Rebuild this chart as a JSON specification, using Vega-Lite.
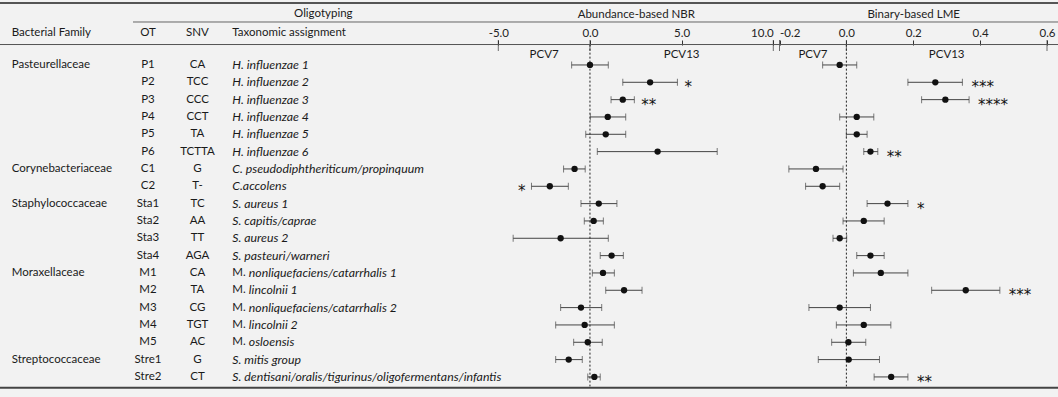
{
  "$schema": "https://vega.github.io/schema/vega-lite/v6.json",
  "width": 1058,
  "height": 397,
  "autosize": "none",
  "padding": 0,
  "background": "#f2f2f2",
  "config": {
    "view": {"stroke": null},
    "font": "Lato",
    "text": {"fontSize": 11.5, "color": "#1a1a1a"},
    "axis": {
      "domain": false,
      "grid": false,
      "ticks": true,
      "tickSize": 5,
      "tickColor": "#333",
      "labelFontSize": 11.5,
      "labelColor": "#222",
      "labelPadding": 2,
      "labelOverlap": false,
      "labelFlush": false,
      "titleFontSize": 11.5,
      "titleFontWeight": "normal",
      "titleColor": "#222"
    }
  },
  "datasets": {
    "rows": [
      {"family": "Pasteurellaceae", "ot": "P1", "snv": "CA", "taxPrefix": "", "taxName": "H. influenzae 1", "nbr": 0.0, "nbr_lo": -1.0, "nbr_hi": 1.0, "nbr_sig": "", "lme": -0.02, "lme_lo": -0.071, "lme_hi": 0.031, "lme_sig": ""},
      {"family": "Pasteurellaceae", "ot": "P2", "snv": "TCC", "taxPrefix": "", "taxName": "H. influenzae 2", "nbr": 3.28, "nbr_lo": 1.79, "nbr_hi": 4.77, "nbr_sig": "*", "lme": 0.266, "lme_lo": 0.184, "lme_hi": 0.347, "lme_sig": "***"},
      {"family": "Pasteurellaceae", "ot": "P3", "snv": "CCC", "taxPrefix": "", "taxName": "H. influenzae 3", "nbr": 1.79, "nbr_lo": 1.15, "nbr_hi": 2.42, "nbr_sig": "**", "lme": 0.296, "lme_lo": 0.225, "lme_hi": 0.367, "lme_sig": "****"},
      {"family": "Pasteurellaceae", "ot": "P4", "snv": "CCT", "taxPrefix": "", "taxName": "H. influenzae 4", "nbr": 0.97, "nbr_lo": 0.02, "nbr_hi": 1.95, "nbr_sig": "", "lme": 0.031, "lme_lo": -0.02, "lme_hi": 0.082, "lme_sig": ""},
      {"family": "Pasteurellaceae", "ot": "P5", "snv": "TA", "taxPrefix": "", "taxName": "H. influenzae 5", "nbr": 0.86, "nbr_lo": -0.23, "nbr_hi": 1.95, "nbr_sig": "", "lme": 0.031, "lme_lo": 0.0, "lme_hi": 0.062, "lme_sig": ""},
      {"family": "Pasteurellaceae", "ot": "P6", "snv": "TCTTA", "taxPrefix": "", "taxName": "H. influenzae 6", "nbr": 3.69, "nbr_lo": 0.4, "nbr_hi": 6.94, "nbr_sig": "", "lme": 0.072, "lme_lo": 0.052, "lme_hi": 0.094, "lme_sig": "**"},
      {"family": "Corynebacteriaceae", "ot": "C1", "snv": "G", "taxPrefix": "", "taxName": "C. pseudodiphtheriticum/propinquum", "nbr": -0.84, "nbr_lo": -1.44, "nbr_hi": -0.26, "nbr_sig": "", "lme": -0.091, "lme_lo": -0.172, "lme_hi": -0.01, "lme_sig": ""},
      {"family": "Corynebacteriaceae", "ot": "C2", "snv": "T-", "taxPrefix": "", "taxName": "C.accolens", "nbr": -2.19, "nbr_lo": -3.19, "nbr_hi": -1.18, "nbr_sig": "*", "lme": -0.071, "lme_lo": -0.122, "lme_hi": -0.02, "lme_sig": ""},
      {"family": "Staphylococcaceae", "ot": "Sta1", "snv": "TC", "taxPrefix": "", "taxName": "S. aureus 1", "nbr": 0.48, "nbr_lo": -0.49, "nbr_hi": 1.47, "nbr_sig": "", "lme": 0.123, "lme_lo": 0.062, "lme_hi": 0.184, "lme_sig": "*"},
      {"family": "Staphylococcaceae", "ot": "Sta2", "snv": "AA", "taxPrefix": "", "taxName": "S. capitis/caprae", "nbr": 0.2, "nbr_lo": -0.31, "nbr_hi": 0.73, "nbr_sig": "", "lme": 0.052, "lme_lo": -0.01, "lme_hi": 0.113, "lme_sig": ""},
      {"family": "Staphylococcaceae", "ot": "Sta3", "snv": "TT", "taxPrefix": "", "taxName": "S. aureus 2", "nbr": -1.6, "nbr_lo": -4.19, "nbr_hi": 1.0, "nbr_sig": "", "lme": -0.02, "lme_lo": -0.04, "lme_hi": 0.001, "lme_sig": ""},
      {"family": "Staphylococcaceae", "ot": "Sta4", "snv": "AGA", "taxPrefix": "", "taxName": "S. pasteuri/warneri", "nbr": 1.18, "nbr_lo": 0.56, "nbr_hi": 1.82, "nbr_sig": "", "lme": 0.072, "lme_lo": 0.031, "lme_hi": 0.113, "lme_sig": ""},
      {"family": "Moraxellaceae", "ot": "M1", "snv": "CA", "taxPrefix": "M.", "taxName": "nonliquefaciens/catarrhalis 1", "nbr": 0.71, "nbr_lo": 0.13, "nbr_hi": 1.33, "nbr_sig": "", "lme": 0.103, "lme_lo": 0.021, "lme_hi": 0.184, "lme_sig": ""},
      {"family": "Moraxellaceae", "ot": "M2", "snv": "TA", "taxPrefix": "M.", "taxName": "lincolnii 1", "nbr": 1.86, "nbr_lo": 0.86, "nbr_hi": 2.84, "nbr_sig": "", "lme": 0.357, "lme_lo": 0.255, "lme_hi": 0.459, "lme_sig": "***"},
      {"family": "Moraxellaceae", "ot": "M3", "snv": "CG", "taxPrefix": "M.", "taxName": "nonliquefaciens/catarrhalis 2", "nbr": -0.49, "nbr_lo": -1.6, "nbr_hi": 0.64, "nbr_sig": "", "lme": -0.02, "lme_lo": -0.112, "lme_hi": 0.072, "lme_sig": ""},
      {"family": "Moraxellaceae", "ot": "M4", "snv": "TGT", "taxPrefix": "M.", "taxName": "lincolnii 2", "nbr": -0.29, "nbr_lo": -1.87, "nbr_hi": 1.33, "nbr_sig": "", "lme": 0.052, "lme_lo": -0.03, "lme_hi": 0.133, "lme_sig": ""},
      {"family": "Moraxellaceae", "ot": "M5", "snv": "AC", "taxPrefix": "M.", "taxName": "osloensis", "nbr": -0.12, "nbr_lo": -0.89, "nbr_hi": 0.67, "nbr_sig": "", "lme": 0.006, "lme_lo": -0.044, "lme_hi": 0.058, "lme_sig": ""},
      {"family": "Streptococcaceae", "ot": "Stre1", "snv": "G", "taxPrefix": "", "taxName": "S. mitis group", "nbr": -1.16, "nbr_lo": -1.87, "nbr_hi": -0.42, "nbr_sig": "", "lme": 0.007, "lme_lo": -0.084, "lme_hi": 0.099, "lme_sig": ""},
      {"family": "Streptococcaceae", "ot": "Stre2", "snv": "CT", "taxPrefix": "", "taxName": "S. dentisani/oralis/tigurinus/oligofermentans/infantis", "nbr": 0.24, "nbr_lo": -0.12, "nbr_hi": 0.56, "nbr_sig": "", "lme": 0.134, "lme_lo": 0.083, "lme_hi": 0.184, "lme_sig": "**"}
    ]
  },
  "data": {"name": "rows"},
  "encoding": {
    "y": {
      "field": "ot",
      "type": "nominal",
      "scale": {
        "type": "point",
        "domain": ["h0", "h1", "h2", "P1", "P2", "P3", "P4", "P5", "P6", "C1", "C2", "Sta1", "Sta2", "Sta3", "Sta4", "M1", "M2", "M3", "M4", "M5", "Stre1", "Stre2"],
        "range": [4.3, 385.6],
        "padding": 0.5
      },
      "axis": null
    }
  },
  "resolve": {"scale": {"x": "independent"}, "axis": {"x": "independent"}},
  "layer": [
    {
      "layer": [
        {
          "transform": [
            {"window": [{"op": "row_number", "as": "rk"}], "groupby": ["family"]},
            {"filter": "datum.rk == 1"}
          ],
          "mark": {"type": "text", "align": "left"},
          "encoding": {
            "x": {"datum": "Bacterial Family", "type": "nominal", "scale": {"type": "point", "domain": ["Bacterial Family"], "range": [11.7, 11.7], "padding": 0}, "axis": null},
            "text": {"field": "family"}
          }
        },
        {
          "data": {"values": [{}]},
          "mark": {"type": "text", "align": "left", "dy": 3},
          "encoding": {
            "x": {"datum": "Bacterial Family", "type": "nominal", "axis": null},
            "y": {"datum": "h1", "type": "nominal", "axis": null},
            "text": {"value": "Bacterial Family"}
          }
        }
      ]
    },
    {
      "layer": [
        {
          "mark": {"type": "text", "align": "center"},
          "encoding": {
            "x": {"datum": "OT", "type": "nominal", "scale": {"type": "point", "domain": ["OT", "SNV"], "range": [148, 197.5], "padding": 0}, "axis": null},
            "text": {"field": "ot"}
          }
        },
        {
          "mark": {"type": "text", "align": "center"},
          "encoding": {
            "x": {"datum": "SNV", "type": "nominal", "axis": null},
            "text": {"field": "snv"}
          }
        },
        {
          "data": {"values": [{"h": "OT"}, {"h": "SNV"}]},
          "mark": {"type": "text", "align": "center", "dy": 3},
          "encoding": {
            "x": {"field": "h", "type": "nominal", "axis": null},
            "y": {"datum": "h1", "type": "nominal", "axis": null},
            "text": {"field": "h"}
          }
        }
      ]
    },
    {
      "layer": [
        {
          "transform": [{"filter": "datum.taxPrefix == ''"}],
          "mark": {"type": "text", "align": "left", "fontStyle": "italic", "fontSize": 12.3},
          "encoding": {
            "x": {"datum": "Taxonomic assignment", "type": "nominal", "scale": {"type": "point", "domain": ["Taxonomic assignment"], "range": [232.3, 232.3], "padding": 0}, "axis": null},
            "text": {"field": "taxName"}
          }
        },
        {
          "transform": [{"filter": "datum.taxPrefix != ''"}],
          "mark": {"type": "text", "align": "left"},
          "encoding": {
            "x": {"datum": "Taxonomic assignment", "type": "nominal", "axis": null},
            "text": {"field": "taxPrefix"}
          }
        },
        {
          "transform": [{"filter": "datum.taxPrefix != ''"}],
          "mark": {"type": "text", "align": "left", "fontStyle": "italic", "fontSize": 12.3, "dx": 16.5},
          "encoding": {
            "x": {"datum": "Taxonomic assignment", "type": "nominal", "axis": null},
            "text": {"field": "taxName"}
          }
        },
        {
          "data": {"values": [{}]},
          "mark": {"type": "text", "align": "left", "dy": 3},
          "encoding": {
            "x": {"datum": "Taxonomic assignment", "type": "nominal", "axis": null},
            "y": {"datum": "h1", "type": "nominal", "axis": null},
            "text": {"value": "Taxonomic assignment"}
          }
        },
        {
          "data": {"values": [{}]},
          "mark": {"type": "text", "align": "center", "dx": 91, "dy": 1},
          "encoding": {
            "x": {"datum": "Taxonomic assignment", "type": "nominal", "axis": null},
            "y": {"datum": "h0", "type": "nominal", "axis": null},
            "text": {"value": "Oligotyping"}
          }
        },
        {
          "data": {"values": [{}]},
          "mark": {"type": "rule", "color": "#666", "strokeWidth": 1, "xOffset": -99.3, "yOffset": -8.3},
          "encoding": {
            "x": {"datum": "Taxonomic assignment", "type": "nominal", "axis": null},
            "x2": {"value": "width"},
            "y": {"datum": "h1", "type": "nominal", "axis": null}
          }
        }
      ]
    },
    {
      "mark": {"type": "rule", "color": "#444", "strokeWidth": 1},
      "encoding": {
        "x": {
          "field": "nbr_lo",
          "type": "quantitative",
          "scale": {"domain": [-5, 10], "range": [498.3, 773.3], "zero": false, "nice": false},
          "axis": {
            "orient": "top",
            "offset": -45,
            "values": [-5, 0, 5, 10],
            "format": ".1f",
            "labelExpr": "replace(datum.label, '\u2212', '-')",
            "labelAlign": {"condition": {"test": "datum.value == 10", "value": "right"}, "value": "center"},
            "title": "Abundance-based NBR",
            "titleY": -28,
            "titleBaseline": "alphabetic"
          }
        },
        "x2": {"field": "nbr_hi"}
      }
    },
    {
      "layer": [
        {
          "data": {"values": [{}]},
          "mark": {"type": "rule", "strokeDash": [2, 2], "color": "#222", "strokeWidth": 1, "yOffset": -3, "y2Offset": 9.5},
          "encoding": {
            "x": {"datum": 0, "type": "quantitative", "scale": {"domain": [-5, 10], "range": [498.3, 773.3], "zero": false, "nice": false}, "axis": null},
            "y": {"datum": "h2", "type": "nominal", "axis": null},
            "y2": {"datum": "Stre2"}
          }
        },
        {
          "data": {"values": [{"v": -5}, {"v": 0}, {"v": 10}]},
          "mark": {"type": "tick", "orient": "vertical", "size": 11, "thickness": 1, "color": "#333", "yOffset": -2.1},
          "encoding": {
            "x": {"field": "v", "type": "quantitative", "axis": null},
            "y": {"datum": "h2", "type": "nominal", "axis": null}
          }
        },
        {
          "mark": {"type": "tick", "orient": "vertical", "size": 7, "thickness": 1, "color": "#444"},
          "encoding": {"x": {"field": "nbr_lo", "type": "quantitative", "axis": null}}
        },
        {
          "mark": {"type": "tick", "orient": "vertical", "size": 7, "thickness": 1, "color": "#444"},
          "encoding": {"x": {"field": "nbr_hi", "type": "quantitative", "axis": null}}
        },
        {
          "mark": {"type": "circle", "size": 40, "color": "#111", "opacity": 1},
          "encoding": {"x": {"field": "nbr", "type": "quantitative", "axis": null}}
        },
        {
          "transform": [{"filter": "datum.nbr_sig != '' && datum.nbr >= 0"}],
          "mark": {"type": "text", "align": "left", "baseline": "alphabetic", "dx": 7, "dy": 10, "font": "DejaVu Sans", "fontSize": 15, "color": "#111"},
          "encoding": {
            "x": {"field": "nbr_hi", "type": "quantitative", "axis": null},
            "text": {"field": "nbr_sig"}
          }
        },
        {
          "transform": [{"filter": "datum.nbr_sig != '' && datum.nbr < 0"}],
          "mark": {"type": "text", "align": "right", "baseline": "alphabetic", "dx": -6, "dy": 10, "font": "DejaVu Sans", "fontSize": 15, "color": "#111"},
          "encoding": {
            "x": {"field": "nbr_lo", "type": "quantitative", "axis": null},
            "text": {"field": "nbr_sig"}
          }
        },
        {
          "data": {"values": [{}]},
          "mark": {"type": "text", "align": "center", "dy": 7},
          "encoding": {
            "x": {"datum": -2.5, "type": "quantitative", "axis": null},
            "y": {"datum": "h2", "type": "nominal", "axis": null},
            "text": {"value": "PCV7"}
          }
        },
        {
          "data": {"values": [{}]},
          "mark": {"type": "text", "align": "center", "dy": 7},
          "encoding": {
            "x": {"datum": 5, "type": "quantitative", "axis": null},
            "y": {"datum": "h2", "type": "nominal", "axis": null},
            "text": {"value": "PCV13"}
          }
        }
      ]
    },
    {
      "mark": {"type": "rule", "color": "#444", "strokeWidth": 1},
      "encoding": {
        "x": {
          "field": "lme_lo",
          "type": "quantitative",
          "scale": {"domain": [-0.2, 0.6], "range": [779.5, 1047], "zero": false, "nice": false},
          "axis": {
            "orient": "top",
            "offset": -45,
            "values": [-0.2, 0, 0.2, 0.4, 0.6],
            "format": ".1f",
            "labelExpr": "replace(datum.label, '\u2212', '-')",
            "labelAlign": {"condition": {"test": "datum.value < -0.1", "value": "left"}, "value": "center"},
            "title": "Binary-based LME",
            "titleY": -28,
            "titleBaseline": "alphabetic"
          }
        },
        "x2": {"field": "lme_hi"}
      }
    },
    {
      "layer": [
        {
          "data": {"values": [{}]},
          "mark": {"type": "rule", "strokeDash": [2, 2], "color": "#222", "strokeWidth": 1, "yOffset": -3, "y2Offset": 9.5},
          "encoding": {
            "x": {"datum": 0, "type": "quantitative", "scale": {"domain": [-0.2, 0.6], "range": [779.5, 1047], "zero": false, "nice": false}, "axis": null},
            "y": {"datum": "h2", "type": "nominal", "axis": null},
            "y2": {"datum": "Stre2"}
          }
        },
        {
          "data": {"values": [{"v": -0.2}, {"v": 0}, {"v": 0.6}]},
          "mark": {"type": "tick", "orient": "vertical", "size": 11, "thickness": 1, "color": "#333", "yOffset": -2.1},
          "encoding": {
            "x": {"field": "v", "type": "quantitative", "axis": null},
            "y": {"datum": "h2", "type": "nominal", "axis": null}
          }
        },
        {
          "mark": {"type": "tick", "orient": "vertical", "size": 7, "thickness": 1, "color": "#444"},
          "encoding": {"x": {"field": "lme_lo", "type": "quantitative", "axis": null}}
        },
        {
          "mark": {"type": "tick", "orient": "vertical", "size": 7, "thickness": 1, "color": "#444"},
          "encoding": {"x": {"field": "lme_hi", "type": "quantitative", "axis": null}}
        },
        {
          "mark": {"type": "circle", "size": 40, "color": "#111", "opacity": 1},
          "encoding": {"x": {"field": "lme", "type": "quantitative", "axis": null}}
        },
        {
          "transform": [{"filter": "datum.lme_sig != ''"}],
          "mark": {"type": "text", "align": "left", "baseline": "alphabetic", "dx": 9, "dy": 10, "font": "DejaVu Sans", "fontSize": 15, "color": "#111"},
          "encoding": {
            "x": {"field": "lme_hi", "type": "quantitative", "axis": null},
            "text": {"field": "lme_sig"}
          }
        },
        {
          "data": {"values": [{}]},
          "mark": {"type": "text", "align": "center", "dy": 7},
          "encoding": {
            "x": {"datum": -0.1, "type": "quantitative", "axis": null},
            "y": {"datum": "h2", "type": "nominal", "axis": null},
            "text": {"value": "PCV7"}
          }
        },
        {
          "data": {"values": [{}]},
          "mark": {"type": "text", "align": "center", "dy": 7},
          "encoding": {
            "x": {"datum": 0.3, "type": "quantitative", "axis": null},
            "y": {"datum": "h2", "type": "nominal", "axis": null},
            "text": {"value": "PCV13"}
          }
        }
      ]
    },
    {
      "data": {"values": [{}]},
      "layer": [
        {
          "mark": {"type": "rule", "color": "#555", "strokeWidth": 2, "yOffset": -10},
          "encoding": {"y": {"datum": "h0", "type": "nominal", "axis": null}}
        },
        {
          "mark": {"type": "rule", "color": "#555", "strokeWidth": 1, "yOffset": -3.1},
          "encoding": {"y": {"datum": "h2", "type": "nominal", "axis": null}}
        },
        {
          "mark": {"type": "rule", "color": "#444", "strokeWidth": 2, "yOffset": 10.7},
          "encoding": {"y": {"datum": "Stre2", "type": "nominal", "axis": null}}
        }
      ]
    }
  ]
}
